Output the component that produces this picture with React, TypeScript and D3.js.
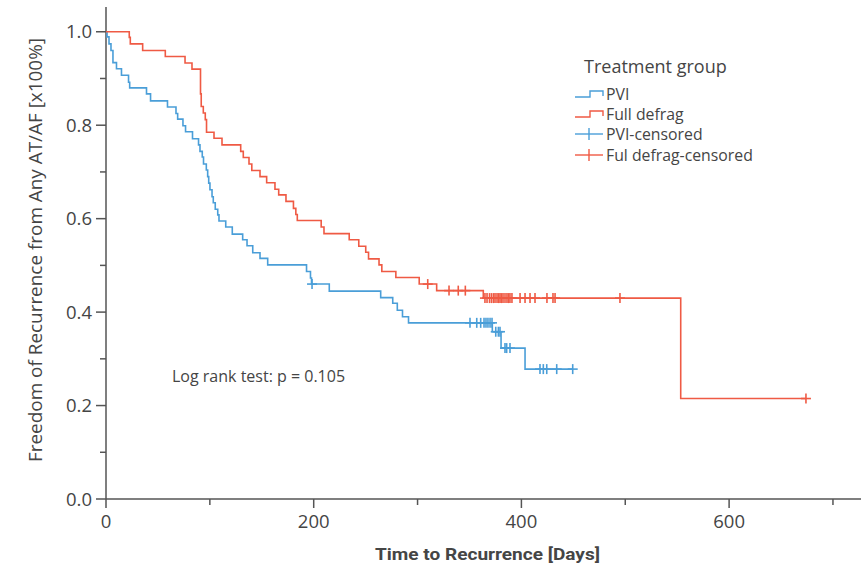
import React, { useEffect, useRef } from 'react'
import * as d3 from 'd3'

// PVI group: event times (days) and survival after each event
const pviTimes = [1, 2.9, 4.8, 6.7, 10.1, 14.9, 21.7, 22.8, 39, 42.9, 59.2, 67.4, 69, 74.1, 76.6, 83.3, 89.1, 90.5, 92.7, 93.9,
  96.6, 97.9, 98.9, 100.1, 102.1, 103.3, 105.2, 107.6, 108.8, 115.3, 121.6, 131.6, 135.8, 141.3, 148.3, 155.7,
  193.1, 196.9, 197.9, 215, 264.5, 276.1, 280.5, 285.5, 291.3, 372, 380.4, 403.5]
const pviSurv = [0.989, 0.974, 0.96, 0.934, 0.921, 0.907, 0.892, 0.88, 0.867, 0.852, 0.839, 0.825, 0.813, 0.799, 0.786, 0.771, 0.758, 0.744, 0.732, 0.717,
  0.704, 0.69, 0.676, 0.662, 0.647, 0.634, 0.62, 0.608, 0.595, 0.582, 0.567, 0.555, 0.542, 0.527, 0.515, 0.501,
  0.487, 0.473, 0.46, 0.445, 0.431, 0.419, 0.404, 0.39, 0.377, 0.358, 0.323, 0.278]
const pviCensored = [198.4, 350.5, 357, 360.8, 364, 365.9, 367.8, 369.8, 371.7, 375.3, 377.8, 379.4, 384.2, 385.8, 389,
  417.9, 421.1, 424.4, 434, 449.4]

// Full defrag group
const defragTimes = [22.4, 23.4, 35.3, 57.1, 76.1, 82.8, 91, 91.7, 93.7, 95.6, 96.8, 104, 111.7, 129.7, 132.2, 137.7, 140.4,
  148.3, 154.7, 162.7, 166.3, 173.3, 180.5, 182.8, 184.2, 207.2, 209.9, 234.2, 243.4, 250.1, 252.8, 262.9, 265.6,
  279.1, 301.6, 318.4, 363.3, 553.4]
const defragSurv = [0.988, 0.974, 0.96, 0.947, 0.933, 0.92, 0.867, 0.84, 0.826, 0.812, 0.785, 0.772, 0.758, 0.744, 0.731, 0.717, 0.703,
  0.69, 0.677, 0.663, 0.651, 0.637, 0.622, 0.609, 0.596, 0.582, 0.568, 0.555, 0.541, 0.528, 0.514, 0.501, 0.487,
  0.474, 0.46, 0.446, 0.43, 0.215]
const defragCensored = [309.8, 330.3, 339.2, 346, 364.9, 366.9, 369.3, 371.2, 373.1, 374.6, 376.5, 378, 379.4, 380.8, 382.3,
  384.2, 386.1, 387.6, 389, 390.9, 398.7, 403.5, 408.3, 413.1, 424.6, 430.4, 432.4, 494.9, 674]

const xTicks = [0, 100, 200, 300, 400, 500, 600, 700]
const xLabels = [0, 200, 400, 600]
const yTicks = [0, 0.1, 0.2, 0.3, 0.4, 0.5, 0.6, 0.7, 0.8, 0.9, 1.0]
const yLabels = [0, 0.2, 0.4, 0.6, 0.8, 1.0]

const legendItems = ['PVI', 'Full defrag', 'PVI-censored', 'Ful defrag-censored']

const BLUE = '#4a9ed8'
const RED = '#ef5a44'
const TEXT = '#454545'
const FONT = "'Open Sans', 'Noto Sans', sans-serif"

function App() {
  const ref = useRef<SVGSVGElement>(null)

  useEffect(() => {
    document.body.style.margin = '0'
    const svg = d3.select(ref.current)
    svg.selectAll('*').remove()

    const x = d3.scaleLinear().domain([0, 727]).range([106, 861])
    const y = d3.scaleLinear().domain([0, 1.053]).range([499, 7])

    // axes
    const axis = svg.append('g').attr('stroke', '#555').attr('stroke-width', 1.5)
    axis.append('line').attr('x1', x(0)).attr('x2', 861).attr('y1', y(0)).attr('y2', y(0))
    axis.append('line').attr('x1', x(0)).attr('x2', x(0)).attr('y1', y(0)).attr('y2', y(1.053))
    axis.selectAll('.xt').data(xTicks).join('line')
      .attr('x1', d => x(d)).attr('x2', d => x(d))
      .attr('y1', y(0)).attr('y2', d => y(0) + (xLabels.includes(d) ? 9 : 6))
    axis.selectAll('.yt').data(yTicks).join('line')
      .attr('y1', d => y(d)).attr('y2', d => y(d))
      .attr('x1', d => x(0) - (yLabels.some(v => Math.abs(v - d) < 1e-9) ? 10 : 6)).attr('x2', x(0))

    svg.selectAll('.xl').data(xLabels).join('text')
      .attr('x', d => x(d)).attr('y', 528)
      .attr('text-anchor', 'middle')
      .style('font-family', FONT).style('font-size', '18.5px').style('fill', TEXT)
      .text(d => d)
    svg.selectAll('.yl').data(yLabels).join('text')
      .attr('x', 92).attr('y', d => y(d) + 6.5)
      .attr('text-anchor', 'end')
      .style('font-family', FONT).style('font-size', '18.5px').style('fill', TEXT)
      .text(d => d.toFixed(1))

    svg.append('text')
      .attr('x', 375).attr('y', 560)
      .attr('textLength', 225).attr('lengthAdjust', 'spacingAndGlyphs')
      .style('font-family', "'Liberation Sans Narrow', 'Roboto', sans-serif")
      .style('font-weight', 'bold').style('font-size', '17px').style('fill', TEXT)
      .text('Time to Recurrence [Days]')
    svg.append('text')
      .attr('transform', 'translate(42, 462) rotate(-90)')
      .attr('textLength', 424).attr('lengthAdjust', 'spacingAndGlyphs')
      .style('font-family', FONT).style('font-size', '17.5px').style('fill', TEXT)
      .text('Freedom of Recurrence from Any AT/AF [x100%]')

    // survival curves
    const stepLine = d3.line<[number, number]>().x(d => x(d[0])).y(d => y(d[1])).curve(d3.curveStepAfter)
    const curve = (times: number[], surv: number[], end: number): [number, number][] => {
      const pts: [number, number][] = [[0, 1]]
      times.forEach((t, i) => pts.push([t, surv[i]]))
      pts.push([end, surv[surv.length - 1]])
      return pts
    }
    const survAt = (times: number[], surv: number[], t: number) => {
      let s = 1
      times.forEach((tt, i) => { if (tt <= t) s = surv[i] })
      return s
    }

    const groups = [
      { times: pviTimes, surv: pviSurv, cens: pviCensored, color: BLUE },
      { times: defragTimes, surv: defragSurv, cens: defragCensored, color: RED },
    ]
    groups.forEach(g => {
      svg.append('path')
        .attr('d', stepLine(curve(g.times, g.surv, d3.max(g.cens) as number)))
        .attr('fill', 'none').attr('stroke', g.color).attr('stroke-width', 1.6)
      const marks = svg.append('g').attr('stroke', g.color).attr('stroke-width', 1.6)
      g.cens.forEach(t => {
        const cx = x(t), cy = y(survAt(g.times, g.surv, t))
        marks.append('line').attr('x1', cx).attr('x2', cx).attr('y1', cy - 5).attr('y2', cy + 5)
        marks.append('line').attr('x1', cx - 5).attr('x2', cx + 5).attr('y1', cy).attr('y2', cy)
      })
    })

    // legend
    const lg = svg.append('g')
    lg.append('text').attr('x', 584).attr('y', 73)
      .style('font-family', FONT).style('font-size', '18px').style('fill', TEXT)
      .text('Treatment group')
    const baselines = [100, 120, 140, 161]
    legendItems.forEach((name, i) => {
      const color = i % 2 === 0 ? BLUE : RED
      const b = baselines[i]
      if (i < 2) {
        lg.append('path')
          .attr('d', `M575,${b - 3} H590 V${b - 9} H603 V${b - 4}`)
          .attr('fill', 'none').attr('stroke', color).attr('stroke-width', 1.4)
      } else {
        lg.append('line').attr('x1', 575).attr('x2', 603).attr('y1', b - 6).attr('y2', b - 6)
          .attr('stroke', color).attr('stroke-width', 1.4)
        lg.append('line').attr('x1', 589).attr('x2', 589).attr('y1', b - 12).attr('y2', b)
          .attr('stroke', color).attr('stroke-width', 1.4)
      }
      lg.append('text').attr('x', 606).attr('y', b)
        .style('font-family', FONT).style('font-size', '15.8px').style('fill', TEXT)
        .text(name)
    })

    svg.append('text').attr('x', 172).attr('y', 382)
      .style('font-family', FONT).style('font-size', '16px').style('fill', TEXT)
      .text('Log rank test: p = 0.105')
  }, [])

  return <svg ref={ref} width={861} height={570} style={{ display: 'block', background: '#fff' }} />
}

export default App
